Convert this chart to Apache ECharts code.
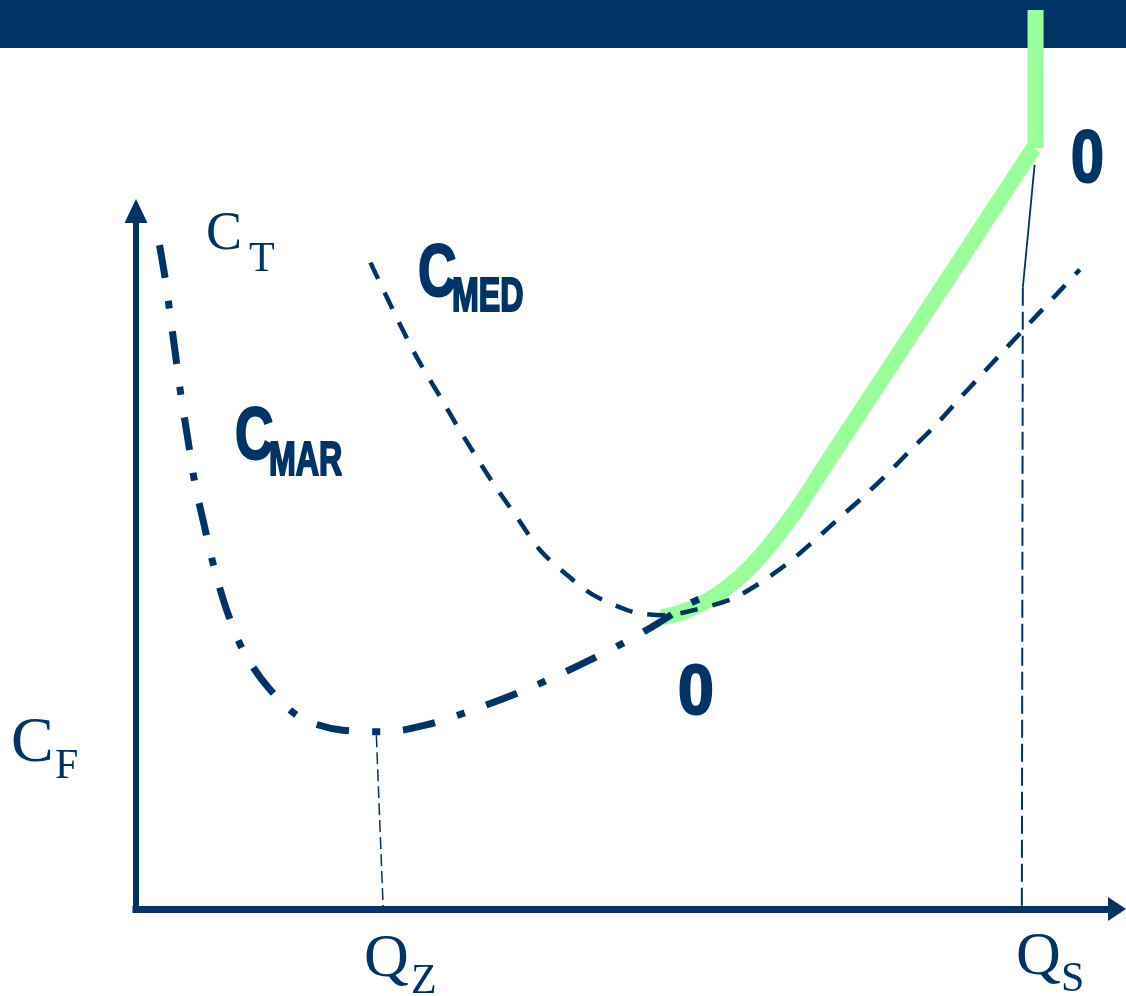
<!DOCTYPE html>
<html>
<head>
<meta charset="utf-8">
<title>Curvas de costo</title>
<script src="https://cdn.jsdelivr.net/npm/echarts@6/dist/echarts.min.js"></script>
<style>
  html, body { margin: 0; padding: 0; background: #ffffff; }
  #chart { width: 1126px; height: 996px; }
</style>
</head>
<body>
<div id="chart"></div>
<script>
// Quantity (Q) on the horizontal axis, cost (C) on the vertical axis.

// Marginal cost curve (C_MAR)
const cmarQ = [0.24, 0.30, 0.34, 0.40, 0.46, 0.53, 0.60, 0.70, 0.80, 0.93, 1.10, 1.35, 1.68, 2.11, 2.56, 2.97, 3.41, 4.02, 4.63, 5.06, 5.34, 5.65, 5.87];
const cmarC = [9.51, 9.01, 8.60, 7.97, 7.34, 6.72, 6.10, 5.47, 4.87, 4.26, 3.68, 3.17, 2.74, 2.56, 2.54, 2.64, 2.84, 3.17, 3.57, 3.88, 4.11, 4.38, 4.51];

// Average cost curve (C_MED)
const cmedQ = [2.39, 2.62, 2.86, 3.10, 3.30, 3.64, 3.88, 4.12, 4.39, 4.66, 5.01, 5.17, 5.39, 5.65, 6.07, 6.36, 6.65, 6.90, 7.16, 7.41, 7.67, 7.90, 8.15, 8.38, 8.61, 8.84, 9.08, 9.30, 9.62];
const cmedC = [9.26, 8.58, 7.91, 7.34, 6.86, 6.10, 5.62, 5.14, 4.79, 4.50, 4.28, 4.23, 4.21, 4.27, 4.44, 4.67, 4.96, 5.26, 5.59, 5.90, 6.25, 6.58, 6.93, 7.29, 7.64, 7.99, 8.35, 8.68, 9.16];

// Supply path: marginal cost above the minimum of average cost, then vertical at capacity
const supplyQ = [5.36, 5.54, 5.73, 5.91, 6.09, 6.27, 6.44, 6.62, 6.80, 7.07, 7.58, 8.09, 9.15];
const supplyC = [4.18, 4.24, 4.35, 4.49, 4.68, 4.91, 5.18, 5.50, 5.86, 6.45, 7.54, 8.63, 10.90];
const capacityQ = [9.17, 9.17];
const capacityC = [10.90, 12.88];

// Reference quantities on the horizontal axis
const qz = 2.52;
const qs = 9.03;
const qzGuideQ = [2.45, qz];
const qzGuideC = [2.49, 0];
const qsLeaderQ = [9.16, 9.04];
const qsLeaderC = [10.66, 8.90];
const qsGuideQ = [9.04, qs];
const qsGuideC = [8.90, 0];

const NAVY = '#003366';
const GREEN = '#99ff99';
const SERIF = '"Liberation Serif", "DejaVu Serif", serif';
const HEAVY = '"Liberation Sans Narrow", "Liberation Sans", sans-serif';

function pairs(xs, ys) { return xs.map((x, i) => [x, ys[i]]); }

function curve(name, xs, ys, width, type, color, smooth, z) {
  return {
    name, type: 'line', data: pairs(xs, ys), clip: false, smooth: smooth,
    symbol: 'none', silent: true, z: z,
    lineStyle: { color: color, width: width, type: type, cap: 'butt', join: 'round' }
  };
}

// Plain serif letters (axis names)
function label(text, left, cy, size, sx) {
  return {
    type: 'text', x: left, y: cy, scaleX: sx, z: 20,
    style: {
      text: text, fill: NAVY, font: 'normal ' + size + 'px ' + SERIF,
      align: 'left', verticalAlign: 'middle', textAlign: 'left', textVerticalAlign: 'middle'
    }
  };
}

// Heavy condensed letters (curve names and points), thickened with an outline
function heavy(text, left, cy, size, sx) {
  return {
    type: 'text', x: left, y: cy, scaleX: sx, z: 20,
    style: {
      text: text, fill: NAVY, stroke: NAVY, lineWidth: 2.2,
      font: 'bold ' + size + 'px ' + HEAVY,
      align: 'left', verticalAlign: 'middle', textAlign: 'left', textVerticalAlign: 'middle'
    }
  };
}

const chart = echarts.init(document.getElementById('chart'), null, { renderer: 'canvas' });

const axisCommon = {
  type: 'value', min: 0, max: 10,
  axisTick: { show: false }, axisLabel: { show: false }, splitLine: { show: false }
};

chart.setOption({
  animation: false,
  backgroundColor: '#ffffff',
  grid: { left: 136, right: 9, top: 211, bottom: 87, containLabel: false },
  xAxis: Object.assign({}, axisCommon, {
    axisLine: { show: true, symbol: ['none', 'triangle'], symbolSize: [24, 18],
      lineStyle: { color: NAVY, width: 7, cap: 'square' } }
  }),
  yAxis: Object.assign({}, axisCommon, {
    axisLine: { show: true, symbol: ['none', 'triangle'], symbolSize: [23, 24],
      lineStyle: { color: NAVY, width: 6, cap: 'square' } }
  }),
  graphic: [
    { type: 'rect', z: -10, shape: { x: 0, y: 0, width: 1126, height: 48 }, style: { fill: NAVY } },
    label('C', 206, 235, 54, 1),
    label('T', 249, 260, 42, 1),
    label('C', 11, 744, 64, 1),
    label('F', 55, 767, 42, 1),
    label('Q', 364, 960, 62, 1),
    label('Z', 411, 982, 42, 1),
    label('Q', 1016, 958, 62, 1),
    label('S', 1061, 980, 42, 1),
    heavy('C', 418, 276, 74, 0.72),
    heavy('MED', 452, 298, 48, 0.67),
    heavy('C', 235, 439, 74, 0.72),
    heavy('MAR', 269, 462, 48, 0.67),
    heavy('0', 1071, 162, 74, 0.8),
    heavy('0', 678, 695, 70, 0.92)
  ],
  series: [
    curve('capacity', capacityQ, capacityC, 16, 'solid', GREEN, false, 3),
    curve('supply', supplyQ, supplyC, 16, 'solid', GREEN, 0.2, 3),
    curve('qzGuide', qzGuideQ, qzGuideC, 1.5, [12, 5], NAVY, false, 4),
    curve('qsLeader', qsLeaderQ, qsLeaderC, 1.8, 'solid', NAVY, false, 4),
    curve('qsGuide', qsGuideQ, qsGuideC, 2, [18, 6], NAVY, false, 4),
    curve('C_MED', cmedQ, cmedC, 4.5, [18, 15], NAVY, 0.3, 5),
    curve('C_MAR', cmarQ, cmarC, 7, [33, 23, 8, 23], NAVY, 0.3, 6)
  ]
});
</script>
</body>
</html>
